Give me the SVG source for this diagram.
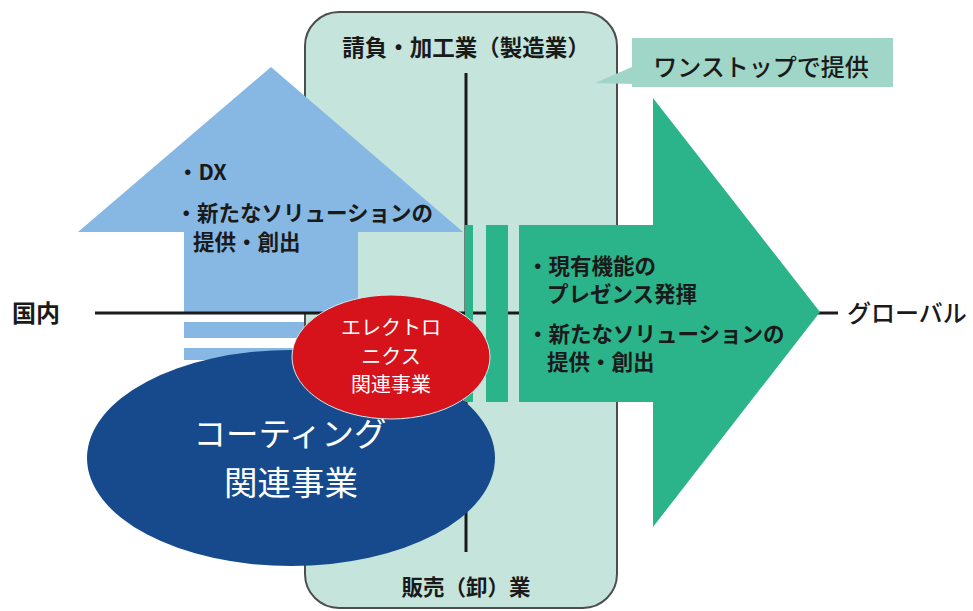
<svg xmlns="http://www.w3.org/2000/svg" width="973" height="611" viewBox="0 0 973 611">
<style>
text{font-family:"Noto Sans CJK JP","Noto Sans",sans-serif;}
.dk{fill:#1a1a1a;font-weight:bold;font-size:21.5px;}
.md{fill:#1a1a1a;font-weight:500;font-size:24px;}
.wh{fill:#ffffff;}
.ln{stroke:#1a1a1a;stroke-width:3;fill:none;}
.grn{fill:#2bb38a;}
</style>
<rect width="973" height="611" fill="#ffffff"/>
<g id="zone">
<rect x="305" y="12" width="312" height="596" rx="34" ry="34" fill="#c4e4dc" stroke="#4d4d4d" stroke-width="2"/>
<text class="dk" x="466" y="56" text-anchor="middle" style="font-size:22.5px">請負・加工業（製造業）</text>
<text class="dk" x="466" y="595" text-anchor="middle">販売（卸）業</text>
</g>
<g id="callout">
<polygon points="632,38 893,38 893,87 632,87 632,84 595,83 632,67" fill="#9fd6c7"/>
<text class="md" x="761" y="76" text-anchor="middle">ワンストップで提供</text>
</g>
<g id="up-arrow">
<polygon points="271,67 463,232 358,232 358,313 184,313 184,232 78,232" fill="#86b8e3"/>
<rect x="184" y="322" width="120" height="16" fill="#86b8e3"/>
<rect x="184" y="348" width="120" height="12" fill="#86b8e3"/>
<text class="dk" x="177" y="180">・DX</text>
<text class="dk" x="175.5" y="221">・新たなソリューションの</text>
<text class="dk" x="193" y="250">提供・創出</text>
</g>
<g id="connectors">
<line class="ln" x1="466" y1="73" x2="466" y2="552"/>
<line class="ln" x1="95" y1="313" x2="838" y2="313"/>
</g>
<g id="right-arrow">
<rect class="grn" x="465" y="225" width="8" height="177"/>
<rect class="grn" x="486" y="225" width="22" height="177"/>
<polygon class="grn" points="519,225 653,225 653,98 820,312 653,527 653,402 519,402"/>
<text class="dk" x="527" y="274">・現有機能の</text>
<text class="dk" x="547" y="302">プレゼンス発揮</text>
<text class="dk" x="527" y="342">・新たなソリューションの</text>
<text class="dk" x="547" y="370">提供・創出</text>
</g>
<g id="coating">
<ellipse cx="291" cy="458" rx="204" ry="108" fill="#164a8c"/>
<text class="wh" x="290" y="446" text-anchor="middle" style="font-size:32.5px">コーティング</text>
<text class="wh" x="291" y="495" text-anchor="middle" style="font-size:33.5px">関連事業</text>
</g>
<g id="electronics">
<ellipse cx="391" cy="357" rx="99" ry="62" fill="#d6121b" stroke="#cdebef" stroke-width="1"/>
<text class="wh" x="391" y="335" text-anchor="middle" style="font-size:20px">エレクトロ</text>
<text class="wh" x="391" y="364" text-anchor="middle" style="font-size:20px">ニクス</text>
<text class="wh" x="391" y="392" text-anchor="middle" style="font-size:20px">関連事業</text>
</g>
<g id="axis-labels">
<text class="dk" x="12" y="322" style="font-size:24px">国内</text>
<text class="md" x="847" y="322">グローバル</text>
</g>
</svg>
